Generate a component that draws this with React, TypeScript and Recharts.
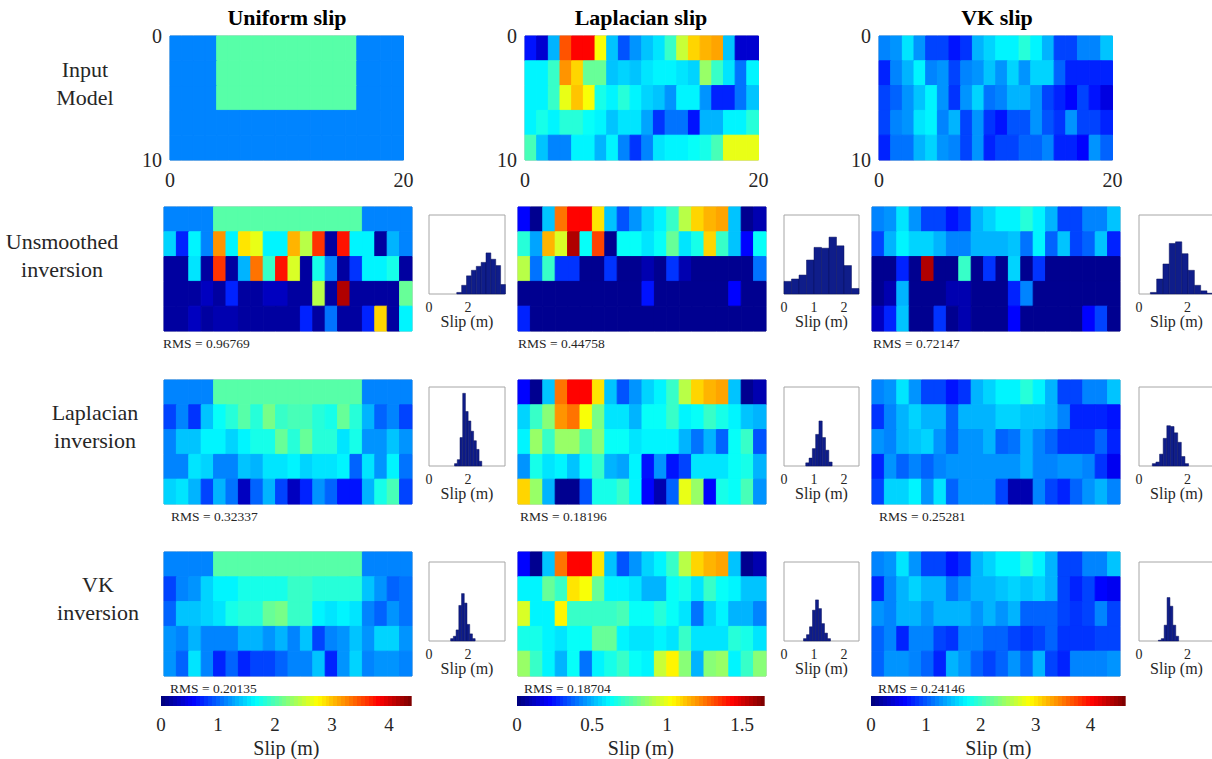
import React from 'react';
import { BarChart, Bar, XAxis, YAxis, Cell, ReferenceArea } from 'recharts';

const FONT = '"Liberation Serif", "Times New Roman", serif';
const INK = '#262626';

// fault grid: 20 cells along strike, 5 rows down dip (2 km each)
const STRIKE_CELLS = [0.5, 1.5, 2.5, 3.5, 4.5, 5.5, 6.5, 7.5, 8.5, 9.5, 10.5, 11.5, 12.5, 13.5, 14.5, 15.5, 16.5, 17.5, 18.5, 19.5];
const ROW_DEPTH = [2, 2, 2, 2, 2];
const STRIKE_TICKS = [0, 20];
const DEPTH_TICKS = [0, 10];

// colour limits (m) per column: uniform, laplacian, vk
const CMAX = [4.4, 1.65, 4.64];
const CBAR_TICKS = [[0, 1, 2, 3, 4], [0, 0.5, 1, 1.5], [0, 1, 2, 3, 4]];
const HIST_XMAX = [3.9, 2.5, 3.1];
const HIST_TICKS = [[0, 2], [0, 1, 2], [0, 2]];

const TITLES = ['Uniform slip', 'Laplacian slip', 'VK slip'];
const ROW_NAMES = [['Input', 'Model'], ['Unsmoothed', 'inversion'], ['Laplacian', 'inversion'], ['VK', 'inversion']];
const RMS = [
  ['0.96769', '0.44758', '0.72147'],
  ['0.32337', '0.18196', '0.25281'],
  ['0.20135', '0.18704', '0.24146'],
];

// ---- input models (slip, m) ----
const uniformTop = [1.1, 1.1, 1.1, 1.1, 2.0, 2.0, 2.0, 2.0, 2.0, 2.0, 2.0, 2.0, 2.0, 2.0, 2.0, 2.0, 1.1, 1.1, 1.1, 1.1];
const uniformBase = [1.1, 1.1, 1.1, 1.1, 1.1, 1.1, 1.1, 1.1, 1.1, 1.1, 1.1, 1.1, 1.1, 1.1, 1.1, 1.1, 1.1, 1.1, 1.1, 1.1];
const uniformInput = [uniformTop, uniformTop, uniformTop, uniformBase, uniformBase];

const laplacianInput = [
  [0.25, 0.13, 0.5, 1.29, 1.44, 1.44, 1.02, 0.53, 0.36, 0.45, 0.54, 0.58, 0.71, 0.94, 1.09, 1.16, 1.17, 0.54, 0.13, 0.13],
  [0.61, 0.61, 0.71, 1.19, 1.1, 0.79, 0.79, 0.54, 0.56, 0.53, 0.59, 0.61, 0.61, 0.59, 0.56, 0.86, 0.71, 0.59, 0.41, 0.61],
  [0.61, 0.61, 0.71, 0.99, 1.12, 1.01, 0.66, 0.61, 0.68, 0.61, 0.56, 0.54, 0.46, 0.61, 0.61, 0.46, 0.28, 0.28, 0.41, 0.54],
  [0.61, 0.66, 0.61, 0.69, 0.69, 0.64, 0.61, 0.54, 0.59, 0.59, 0.48, 0.3, 0.4, 0.4, 0.25, 0.5, 0.5, 0.61, 0.61, 0.68],
  [0.74, 0.54, 0.43, 0.43, 0.61, 0.61, 0.5, 0.61, 0.43, 0.3, 0.43, 0.59, 0.61, 0.61, 0.64, 0.66, 0.74, 0.99, 0.99, 0.99],
];

const vkInput = [
  [1.21, 1.3, 1.62, 1.25, 0.88, 0.88, 0.7, 0.84, 1.44, 1.58, 1.72, 1.72, 1.9, 1.72, 1.39, 0.88, 0.88, 1.16, 1.21, 1.48],
  [0.79, 1.16, 1.39, 1.67, 1.21, 1.25, 0.93, 1.21, 1.25, 1.48, 1.25, 1.53, 1.3, 1.53, 1.53, 1.07, 0.79, 0.79, 0.79, 0.74],
  [0.93, 1.02, 1.3, 1.48, 1.67, 1.25, 0.84, 1.25, 1.58, 1.11, 1.21, 1.39, 1.44, 1.25, 0.93, 0.79, 0.65, 0.93, 0.7, 0.46],
  [0.88, 1.16, 1.3, 1.62, 1.67, 1.16, 1.39, 0.88, 1.25, 0.84, 0.7, 0.97, 0.97, 1.3, 0.97, 0.84, 1.25, 0.88, 0.93, 0.79],
  [0.74, 1.11, 1.11, 1.39, 1.53, 1.25, 1.16, 0.88, 1.25, 0.79, 0.88, 0.93, 1.02, 1.02, 1.21, 0.79, 0.79, 0.65, 1.25, 1.02],
];

// ---- unsmoothed inversions ----
const uniformUnsmoothed = [
  uniformTop,
  [1.45, 0.75, 1.65, 1.1, 3.17, 1.65, 2.86, 2.64, 1.65, 1.65, 3.08, 2.42, 3.61, 0.15, 3.78, 1.65, 1.65, 0.15, 1.32, 1.1],
  [0.2, 0.15, 1.54, 0.15, 3.61, 0.15, 1.32, 3.34, 1.89, 3.78, 2.55, 0.15, 1.72, 1.14, 0.15, 0.79, 1.65, 1.65, 1.76, 0.15],
  [0.15, 0.15, 0.15, 0.3, 0.15, 0.7, 0.15, 0.15, 0.3, 0.3, 0.15, 0.15, 2.46, 0.15, 4.14, 0.15, 0.15, 0.15, 0.15, 2.11],
  [0.15, 0.15, 0.3, 0.15, 0.25, 0.25, 0.2, 0.15, 0.15, 0.15, 0.15, 0.75, 0.15, 1.06, 0.15, 0.15, 0.75, 2.9, 0.15, 1.62],
];

const laplacianUnsmoothed = [
  [0.23, 0.05, 0.53, 1.25, 1.44, 1.44, 1.06, 0.54, 0.36, 0.45, 0.56, 0.61, 0.71, 0.92, 1.09, 1.16, 1.17, 0.54, 0.05, 0.1],
  [0.69, 0.48, 1.16, 0.97, 1.57, 0.62, 1.34, 0.05, 0.62, 0.62, 0.59, 0.62, 0.78, 0.58, 0.66, 1.09, 0.71, 0.54, 0.21, 0.62],
  [0.92, 0.4, 0.71, 0.3, 0.3, 0.05, 0.05, 0.3, 0.05, 0.05, 0.1, 0.05, 0.3, 0.1, 0.05, 0.05, 0.05, 0.05, 0.05, 0.4],
  [0.05, 0.05, 0.05, 0.05, 0.05, 0.05, 0.05, 0.05, 0.05, 0.05, 0.25, 0.05, 0.05, 0.05, 0.05, 0.05, 0.05, 0.23, 0.05, 0.05],
  [0.26, 0.05, 0.05, 0.05, 0.05, 0.05, 0.05, 0.05, 0.05, 0.05, 0.05, 0.05, 0.05, 0.05, 0.05, 0.05, 0.05, 0.05, 0.05, 0.05],
];

const vkUnsmoothed = [
  vkInput[0],
  [0.93, 1.39, 1.67, 1.58, 1.53, 1.44, 1.16, 1.21, 1.44, 1.44, 1.39, 1.48, 1.11, 1.72, 1.07, 1.48, 0.93, 1.02, 1.48, 0.79],
  [0.14, 0.14, 0.79, 0.14, 4.4, 0.14, 0.14, 2.0, 0.14, 0.84, 0.14, 1.53, 0.14, 0.84, 0.14, 0.14, 0.14, 0.14, 0.14, 0.14],
  [0.14, 0.28, 1.44, 0.14, 0.14, 0.14, 0.28, 0.28, 0.14, 0.14, 0.14, 0.79, 1.21, 0.14, 0.14, 0.14, 0.14, 0.14, 0.14, 0.14],
  [0.32, 0.79, 1.48, 0.14, 0.14, 0.84, 0.14, 0.28, 0.14, 0.14, 0.14, 0.65, 0.14, 0.14, 0.14, 0.14, 0.14, 0.65, 0.88, 0.14],
];

// ---- laplacian-smoothed inversions ----
const uniformLaplacian = [
  uniformTop,
  [0.84, 1.1, 0.79, 1.41, 1.67, 1.85, 2.02, 1.85, 2.16, 1.89, 1.98, 1.98, 1.85, 1.72, 2.07, 1.85, 1.32, 1.01, 1.14, 0.88],
  [1.1, 1.41, 1.41, 1.63, 1.63, 1.5, 1.63, 1.76, 1.76, 2.11, 1.8, 2.11, 1.85, 1.85, 1.54, 1.72, 1.19, 1.19, 1.41, 1.19],
  [1.1, 1.14, 1.58, 1.45, 1.14, 1.14, 1.41, 1.32, 1.54, 1.54, 1.63, 1.45, 1.58, 1.58, 1.63, 1.01, 1.54, 1.19, 1.63, 1.06],
  [1.45, 1.58, 1.32, 0.88, 1.32, 1.06, 0.31, 0.97, 1.32, 0.84, 0.31, 0.75, 1.23, 0.97, 0.62, 0.62, 1.32, 1.72, 1.94, 0.84],
];

const laplacianLaplacian = [
  laplacianUnsmoothed[0],
  [0.56, 0.71, 0.83, 1.19, 1.25, 1.02, 0.81, 0.58, 0.59, 0.5, 0.64, 0.64, 0.71, 0.61, 0.63, 0.71, 0.66, 0.61, 0.53, 0.5],
  [0.61, 0.86, 0.71, 0.86, 0.86, 0.73, 0.83, 0.63, 0.63, 0.59, 0.61, 0.61, 0.61, 0.5, 0.4, 0.5, 0.38, 0.63, 0.71, 0.36],
  [0.45, 0.66, 0.59, 0.61, 0.54, 0.63, 0.71, 0.5, 0.48, 0.61, 0.25, 0.45, 0.25, 0.31, 0.59, 0.59, 0.59, 0.63, 0.66, 0.5],
  [1.09, 0.86, 0.5, 0.05, 0.05, 0.36, 0.66, 0.66, 0.71, 0.61, 0.23, 0.1, 0.38, 0.99, 0.86, 0.23, 0.66, 0.63, 0.73, 0.45],
];

const vkLaplacian = [
  vkInput[0],
  [0.84, 1.21, 1.39, 1.53, 1.39, 1.39, 1.07, 1.39, 1.39, 1.44, 1.53, 1.58, 1.48, 1.48, 1.44, 1.16, 0.79, 0.79, 0.79, 0.7],
  [1.25, 1.16, 1.39, 1.48, 1.53, 1.3, 1.02, 1.25, 1.3, 1.44, 1.02, 1.11, 1.39, 1.16, 1.02, 0.84, 0.84, 0.84, 1.07, 0.74],
  [0.79, 1.25, 1.02, 1.21, 1.07, 1.21, 1.25, 1.25, 1.3, 1.3, 1.25, 1.25, 1.39, 1.16, 1.16, 1.25, 1.25, 1.16, 0.84, 0.51],
  [0.88, 1.53, 1.53, 1.67, 1.25, 1.62, 1.07, 1.25, 1.25, 1.25, 0.88, 0.28, 0.28, 1.21, 0.88, 0.79, 1.07, 1.25, 1.39, 1.16],
];

// ---- von Karman-regularised inversions ----
const uniformVk = [
  uniformTop,
  [0.88, 1.1, 1.23, 1.5, 1.63, 1.63, 1.72, 1.76, 1.76, 1.76, 1.89, 1.89, 1.85, 1.85, 1.85, 1.85, 1.41, 1.19, 1.01, 1.06],
  [1.01, 1.41, 1.41, 1.45, 1.58, 1.76, 1.85, 1.85, 2.07, 2.16, 1.89, 1.89, 1.63, 1.58, 1.63, 1.58, 1.1, 0.97, 1.19, 1.06],
  [1.19, 1.1, 1.32, 1.1, 1.1, 1.1, 1.32, 1.32, 1.19, 1.32, 1.1, 1.41, 0.84, 1.1, 1.19, 1.41, 1.19, 1.45, 1.45, 1.19],
  [1.19, 1.01, 1.58, 1.1, 0.75, 0.97, 0.75, 0.84, 0.84, 0.97, 1.1, 1.1, 1.41, 0.7, 1.19, 1.45, 1.1, 1.19, 1.19, 1.1],
];

const laplacianVk = [
  laplacianUnsmoothed[0],
  [0.61, 0.61, 0.78, 0.71, 1.06, 1.02, 0.78, 0.61, 0.61, 0.58, 0.5, 0.5, 0.64, 0.66, 0.58, 0.71, 0.64, 0.61, 0.54, 0.53],
  [0.97, 0.61, 0.61, 1.04, 0.71, 0.71, 0.71, 0.71, 0.73, 0.63, 0.64, 0.69, 0.63, 0.58, 0.4, 0.56, 0.61, 0.5, 0.5, 0.43],
  [0.66, 0.66, 0.61, 0.58, 0.64, 0.64, 0.78, 0.78, 0.61, 0.58, 0.58, 0.61, 0.59, 0.71, 0.59, 0.58, 0.59, 0.69, 0.66, 0.59],
  [0.86, 0.71, 0.61, 0.5, 0.63, 0.41, 0.61, 0.66, 0.71, 0.63, 0.61, 0.94, 1.04, 0.83, 0.5, 0.84, 0.87, 0.61, 0.71, 0.83],
];

const vkVk = [
  vkInput[0],
  [0.79, 1.21, 1.39, 1.53, 1.44, 1.39, 1.11, 1.25, 1.39, 1.39, 1.48, 1.58, 1.48, 1.53, 1.39, 0.88, 0.79, 0.93, 0.65, 0.51],
  [1.25, 1.16, 1.39, 1.39, 1.25, 1.44, 1.44, 1.39, 1.25, 1.39, 1.25, 1.39, 1.07, 1.07, 1.07, 0.93, 0.84, 0.88, 1.16, 0.93],
  [1.07, 1.16, 0.79, 1.16, 1.16, 0.93, 0.84, 1.16, 1.16, 1.02, 1.02, 0.93, 0.84, 0.93, 1.07, 0.84, 0.84, 0.84, 0.88, 0.93],
  [1.07, 1.25, 1.25, 1.21, 1.07, 0.79, 1.39, 1.25, 1.07, 0.93, 1.07, 1.25, 1.07, 1.39, 0.93, 0.79, 1.16, 1.21, 1.16, 1.25],
];

// ---- slip histograms of the boxed cell (count, % of axis height) ----
const histUniformUnsmoothed = [
  { slip: 1.55, count: 2 }, { slip: 1.8, count: 11 }, { slip: 2.05, count: 23 }, { slip: 2.3, count: 30 },
  { slip: 2.55, count: 35 }, { slip: 2.8, count: 40 }, { slip: 3.05, count: 52 }, { slip: 3.3, count: 44 },
  { slip: 3.55, count: 36 }, { slip: 3.8, count: 12 },
];
const histLaplacianUnsmoothed = [
  { slip: 0.125, count: 16 }, { slip: 0.375, count: 19 }, { slip: 0.625, count: 24 }, { slip: 0.875, count: 43 },
  { slip: 1.125, count: 59 }, { slip: 1.375, count: 58 }, { slip: 1.625, count: 72 }, { slip: 1.875, count: 61 },
  { slip: 2.125, count: 36 }, { slip: 2.375, count: 7 },
];
const histVkUnsmoothed = [
  { slip: 0.6, count: 2 }, { slip: 0.86, count: 19 }, { slip: 1.12, count: 38 }, { slip: 1.38, count: 64 },
  { slip: 1.64, count: 66 }, { slip: 1.9, count: 51 }, { slip: 2.16, count: 30 }, { slip: 2.42, count: 11 },
  { slip: 2.68, count: 4 }, { slip: 2.94, count: 1 },
];
const histUniformLaplacian = [
  { slip: 1.38, count: 3 }, { slip: 1.52, count: 8 }, { slip: 1.66, count: 36 }, { slip: 1.8, count: 92 },
  { slip: 1.94, count: 69 }, { slip: 2.08, count: 57 }, { slip: 2.22, count: 44 }, { slip: 2.36, count: 32 },
  { slip: 2.5, count: 21 }, { slip: 2.64, count: 6 },
];
const histLaplacianLaplacian = [
  { slip: 0.78, count: 4 }, { slip: 0.89, count: 10 }, { slip: 1.0, count: 22 }, { slip: 1.11, count: 40 },
  { slip: 1.22, count: 57 }, { slip: 1.33, count: 36 }, { slip: 1.44, count: 20 }, { slip: 1.55, count: 5 },
];
const histVkLaplacian = [
  { slip: 0.625, count: 3 }, { slip: 0.775, count: 5 }, { slip: 0.925, count: 15 }, { slip: 1.075, count: 35 },
  { slip: 1.225, count: 51 }, { slip: 1.375, count: 50 }, { slip: 1.525, count: 42 }, { slip: 1.675, count: 30 },
  { slip: 1.825, count: 12 }, { slip: 1.975, count: 3 },
];
const histUniformVk = [
  { slip: 1.18, count: 3 }, { slip: 1.32, count: 6 }, { slip: 1.46, count: 14 }, { slip: 1.6, count: 45 },
  { slip: 1.74, count: 60 }, { slip: 1.88, count: 48 }, { slip: 2.02, count: 21 }, { slip: 2.16, count: 9 },
  { slip: 2.3, count: 3 },
];
const histLaplacianVk = [
  { slip: 0.7, count: 3 }, { slip: 0.8, count: 8 }, { slip: 0.9, count: 18 }, { slip: 1.0, count: 39 },
  { slip: 1.1, count: 52 }, { slip: 1.2, count: 41 }, { slip: 1.3, count: 22 }, { slip: 1.4, count: 10 },
  { slip: 1.5, count: 3 },
];
const histVkVk = [
  { slip: 0.86, count: 1 }, { slip: 0.98, count: 3 }, { slip: 1.1, count: 20 }, { slip: 1.22, count: 55 },
  { slip: 1.34, count: 44 }, { slip: 1.46, count: 20 }, { slip: 1.58, count: 6 },
];

const INPUTS = [uniformInput, laplacianInput, vkInput];
const INVERSIONS = [
  [uniformUnsmoothed, laplacianUnsmoothed, vkUnsmoothed],
  [uniformLaplacian, laplacianLaplacian, vkLaplacian],
  [uniformVk, laplacianVk, vkVk],
];
const HISTS = [
  [histUniformUnsmoothed, histLaplacianUnsmoothed, histVkUnsmoothed],
  [histUniformLaplacian, histLaplacianLaplacian, histVkLaplacian],
  [histUniformVk, histLaplacianVk, histVkVk],
];

// ---- layout (px) ----
const TITLE_X = [287, 641, 997];
const INPUT_LEFT = [170, 525, 879];
const MAP_LEFT = [163.5, 517.5, 872];
const ROW_TOP = [207, 379.5, 551.5];
const HIST_LEFT = [429, 784, 1139];
const HIST_TOP = [215, 387, 561.5];
const HIST_W = [76, 75, 75];
const CBAR_LEFT = [161, 517.3, 871];
const CBAR_W = [250.7, 247.7, 254.7];
const RMS_LEFT = [[163, 518, 873], [171, 520, 879], [170, 524, 878]];
const RMS_Y = [344, 517, 689];
const ROW_LABEL = [
  { x: 85, y: [70, 98] },
  { x: 62, y: [242, 270] },
  { x: 95, y: [413, 441] },
  { x: 98, y: [585, 613] },
];

const jetColor = (v: number, cmax: number) => {
  const t = Math.max(0, Math.min(1, v / cmax));
  const q = Math.min(63, Math.floor(t * 64)) / 63;
  const ch = (d: number) => Math.round(255 * Math.max(0, Math.min(1, 1.5 - Math.abs(4 * q - d))));
  return `rgb(${ch(3)},${ch(2)},${ch(1)})`;
};

const JET_LEVELS = Array.from({ length: 64 }, (_, k) => k);

type MapProps = {
  grid: number[][];
  cmax: number;
  left: number;
  top: number;
  width: number;
  height: number;
  axes?: boolean;
  box?: boolean;
};

function SlipMap({ grid, cmax, left, top, width, height, axes = false, box = false }: MapProps) {
  const data = STRIKE_CELLS.map((x) => {
    const col: Record<string, number> = { x };
    ROW_DEPTH.forEach((d, i) => {
      col[`d${i}`] = d;
    });
    return col;
  });
  const m = axes ? { top: 12, right: 14, bottom: 0, left: 0 } : { top: 2, right: 2, bottom: 2, left: 2 };
  const yw = axes ? 40 : 0;
  const xh = axes ? 40 : 0;
  const cellPx = width / STRIKE_CELLS.length;
  const tick = { fontSize: 20, fill: INK, fontFamily: FONT };
  return (
    <div style={{ position: 'absolute', left: left - m.left - yw, top: top - m.top }}>
      <BarChart
        width={m.left + yw + width + m.right}
        height={m.top + height + xh + m.bottom}
        data={data}
        margin={m}
        barCategoryGap={0}
        barGap={0}
      >
        <XAxis type="number" dataKey="x" domain={[0, 20]} ticks={STRIKE_TICKS} hide={!axes} height={xh}
          tickSize={0} tickMargin={13} axisLine={false} tickLine={false} tick={tick} />
        <YAxis type="number" reversed domain={[0, 10]} ticks={DEPTH_TICKS} hide={!axes} width={yw}
          tickSize={0} tickMargin={8} axisLine={false} tickLine={false} tick={tick} />
        {grid.map((row, i) => (
          <Bar key={i} dataKey={`d${i}`} stackId="slip" barSize={cellPx - 0.02} isAnimationActive={false}>
            {row.map((v, j) => (
              <Cell key={j} fill={jetColor(v, cmax)} stroke={jetColor(v, cmax)} strokeWidth={1} />
            ))}
          </Bar>
        ))}
        <ReferenceArea x1={0} x2={20} y1={0} y2={10} fill="none" stroke="#a6a6a6" strokeWidth={1} />
        {box && <ReferenceArea x1={15} x2={16} y1={2} y2={4} fill="none" stroke="#000" strokeWidth={2.5} />}
      </BarChart>
    </div>
  );
}

type HistProps = {
  bins: { slip: number; count: number }[];
  xmax: number;
  ticks: number[];
  left: number;
  top: number;
  width: number;
  height: number;
};

function SlipHist({ bins, xmax, ticks, left, top, width, height }: HistProps) {
  const m = { top: 1, right: 6, bottom: 0, left: 6 };
  const binPx = ((bins[1].slip - bins[0].slip) / xmax) * width;
  return (
    <div style={{ position: 'absolute', left: left - m.left, top: top - m.top }}>
      <BarChart width={width + m.left + m.right} height={height + m.top + 44} data={bins} margin={m} barCategoryGap={0}>
        <XAxis type="number" dataKey="slip" domain={[0, xmax]} ticks={ticks} height={44}
          tickSize={0} tickMargin={8} axisLine={false} tickLine={false}
          tick={{ fontSize: 14, fill: INK, fontFamily: FONT }}
          label={{ value: 'Slip (m)', position: 'insideBottom', offset: 11, fontSize: 16, fill: INK, fontFamily: FONT }} />
        <YAxis hide type="number" domain={[0, 100]} />
        <Bar dataKey="count" barSize={binPx - 0.02} fill="#0f1d8a" stroke="#0a135c" strokeWidth={0.5} isAnimationActive={false} />
        <ReferenceArea x1={0} x2={xmax} y1={0} y2={100} fill="none" stroke="#a6a6a6" strokeWidth={1} />
      </BarChart>
    </div>
  );
}

function ColorBar({ cmax, ticks, left, top, width, height }: { cmax: number; ticks: number[]; left: number; top: number; width: number; height: number }) {
  const m = { top: 0, right: 14, bottom: 0, left: 8 };
  return (
    <div style={{ position: 'absolute', left: left - m.left, top }}>
      <BarChart layout="vertical" width={width + m.left + m.right} height={height + 62}
        data={[{ name: 'slip', top: cmax }]} margin={m} barCategoryGap={0}>
        <XAxis type="number" domain={[0, cmax]} ticks={ticks} height={62}
          tickSize={0} tickMargin={12} axisLine={false} tickLine={false}
          tick={{ fontSize: 19, fill: INK, fontFamily: FONT }}
          label={{ value: 'Slip (m)', position: 'insideBottom', offset: 13, fontSize: 20, fill: INK, fontFamily: FONT }} />
        <YAxis type="category" dataKey="name" hide />
        <Bar dataKey="top" fill="url(#jetScale)" isAnimationActive={false} />
      </BarChart>
    </div>
  );
}

const textAt = (x: number, y: number, size: number, anchor: 'left' | 'center'): React.CSSProperties => ({
  position: 'absolute',
  left: x,
  top: y - size / 2,
  fontSize: size,
  lineHeight: 1,
  whiteSpace: 'nowrap',
  color: INK,
  transform: anchor === 'center' ? 'translateX(-50%)' : undefined,
});

export default function App() {
  return (
    <div style={{ position: 'absolute', left: 0, top: 0, width: 1212, height: 759, overflow: 'hidden', background: '#fff', fontFamily: FONT }}>
      <svg width={0} height={0} style={{ position: 'absolute' }}>
        <defs>
          <linearGradient id="jetScale" x1="0" y1="0" x2="1" y2="0">
            {JET_LEVELS.flatMap((k) => {
              const c = jetColor((k + 0.5) / 64, 1);
              return [
                <stop key={`a${k}`} offset={k / 64} stopColor={c} />,
                <stop key={`b${k}`} offset={(k + 1) / 64} stopColor={c} />,
              ];
            })}
          </linearGradient>
        </defs>
      </svg>

      {TITLES.map((t, c) => (
        <div key={t} style={{ ...textAt(TITLE_X[c], 18, 22, 'center'), fontWeight: 'bold', color: '#000' }}>{t}</div>
      ))}

      {ROW_NAMES.map((lines, r) =>
        lines.map((line, k) => (
          <div key={`${r}-${k}`} style={textAt(ROW_LABEL[r].x, ROW_LABEL[r].y[k], 22, 'center')}>{line}</div>
        )),
      )}

      {INPUTS.map((grid, c) => (
        <SlipMap key={`in${c}`} grid={grid} cmax={CMAX[c]} left={INPUT_LEFT[c]} top={35.5} width={233.5} height={124} axes />
      ))}

      {INVERSIONS.map((row, r) =>
        row.map((grid, c) => (
          <SlipMap key={`inv${r}${c}`} grid={grid} cmax={CMAX[c]} left={MAP_LEFT[c]} top={ROW_TOP[r]} width={248} height={124} box />
        )),
      )}

      {HISTS.map((row, r) =>
        row.map((bins, c) => (
          <SlipHist key={`h${r}${c}`} bins={bins} xmax={HIST_XMAX[c]} ticks={HIST_TICKS[c]}
            left={HIST_LEFT[c]} top={HIST_TOP[r]} width={HIST_W[c]} height={79} />
        )),
      )}

      {RMS.map((row, r) =>
        row.map((v, c) => (
          <div key={`rms${r}${c}`} style={textAt(RMS_LEFT[r][c], RMS_Y[r], 13.5, 'left')}>{`RMS = ${v}`}</div>
        )),
      )}

      {CMAX.map((cmax, c) => (
        <ColorBar key={`cb${c}`} cmax={cmax} ticks={CBAR_TICKS[c]} left={CBAR_LEFT[c]} top={696} width={CBAR_W[c]} height={10} />
      ))}
    </div>
  );
}
